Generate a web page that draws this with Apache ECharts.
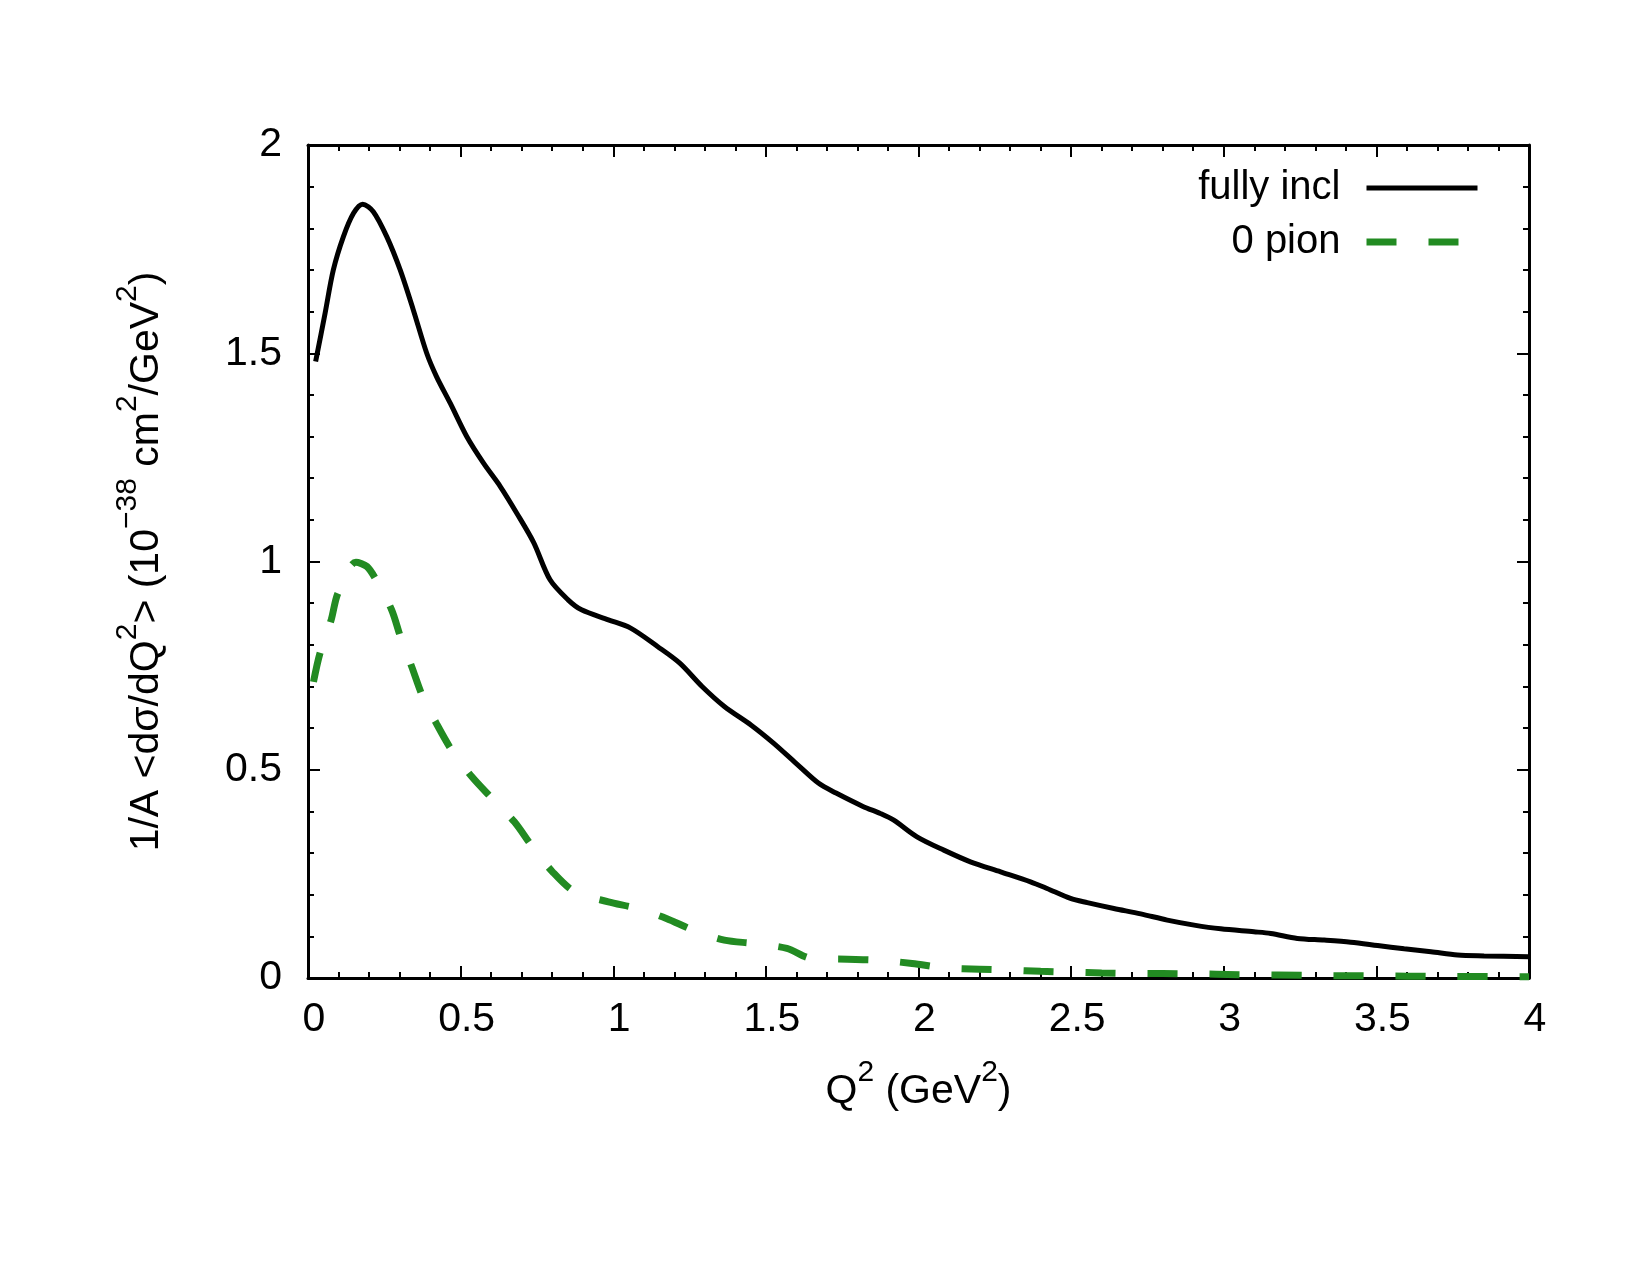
<!DOCTYPE html>
<html>
<head>
<meta charset="utf-8">
<title>Q2 distribution</title>
<script src="https://cdn.jsdelivr.net/npm/echarts@6/dist/echarts.min.js"></script>
<style>
  html, body { margin: 0; padding: 0; background: #fff; }
  #chart { width: 1650px; height: 1275px; }
</style>
</head>
<body>
<div id="chart"></div>
<script>
// Q2 (GeV2) values and 1/A <dsigma/dQ2>
var inclQ2 = [0.025, 0.056, 0.083, 0.116, 0.149, 0.179, 0.214, 0.258, 0.302, 0.345,
  0.389, 0.421, 0.466, 0.520, 0.575, 0.630, 0.684, 0.739, 0.793, 0.852,
  0.896, 0.984, 1.057, 1.145, 1.218, 1.291, 1.364, 1.452, 1.525, 1.598,
  1.672, 1.730, 1.818, 1.875, 1.919, 1.995, 2.083, 2.170, 2.269, 2.367,
  2.421, 2.498, 2.553, 2.640, 2.728, 2.815, 2.903, 2.990, 3.099, 3.154,
  3.241, 3.329, 3.416, 3.504, 3.591, 3.679, 3.766, 3.853, 4.0]
var inclXs = [1.480, 1.596, 1.700, 1.780, 1.836, 1.858, 1.840, 1.780, 1.700, 1.604,
  1.500, 1.444, 1.380, 1.300, 1.236, 1.180, 1.116, 1.046, 0.956, 0.908,
  0.884, 0.860, 0.840, 0.796, 0.756, 0.700, 0.652, 0.607, 0.564, 0.516,
  0.468, 0.444, 0.412, 0.395, 0.379, 0.339, 0.307, 0.279, 0.255, 0.231,
  0.215, 0.191, 0.181, 0.167, 0.154, 0.139, 0.127, 0.118, 0.111, 0.107,
  0.095, 0.091, 0.086, 0.078, 0.070, 0.063, 0.055, 0.053, 0.051]

var pionQ2 = [0.018, 0.039, 0.076, 0.098, 0.157, 0.193, 0.223, 0.274, 0.303, 0.340,
  0.376, 0.420, 0.471, 0.537, 0.603, 0.676, 0.735, 0.801, 0.874, 0.984,
  1.079, 1.174, 1.262, 1.364, 1.459, 1.569, 1.650, 1.767, 1.862, 1.979,
  2.09, 2.2, 2.3, 2.4, 2.5, 2.6, 2.7, 2.9, 3.05, 3.3,
  3.5, 3.7, 4.0]
var pionXs = [0.711, 0.779, 0.860, 0.924, 0.998, 0.988, 0.956, 0.884, 0.819, 0.747,
  0.675, 0.612, 0.547, 0.483, 0.431, 0.375, 0.315, 0.255, 0.207, 0.183,
  0.167, 0.143, 0.115, 0.091, 0.083, 0.071, 0.047, 0.045, 0.043, 0.035,
  0.024, 0.021, 0.019, 0.016, 0.014, 0.012, 0.011, 0.010, 0.008, 0.006,
  0.005, 0.004, 0.003]

var seriesNames = ['fully incl', '0 pion']

function pairs(xs, ys) {
  return xs.map(function (x, i) { return [x, ys[i]] })
}

var FONT = 'Liberation Sans, Arial, Helvetica, sans-serif'
// superscripts: smaller text pushed up with bottom padding
var supRich = {
  b: { fontSize: 41, fontFamily: FONT, color: '#000' },
  s: { fontSize: 30, fontFamily: FONT, color: '#000', padding: [0, 0, 38, 0] }
}

function axisCommon(showLabel) {
  return {
    axisLine: { show: true, onZero: false, lineStyle: { color: '#000', width: 3 } },
    axisTick: { show: true, inside: true, length: 12, lineStyle: { color: '#000', width: 2 } },
    minorTick: { show: true, splitNumber: 5, length: 6, lineStyle: { color: '#000', width: 2 } },
    splitLine: { show: false },
    axisLabel: { show: showLabel, color: '#000', fontSize: 41, fontFamily: FONT }
  }
}

var chart = echarts.init(document.getElementById('chart'))

var xBottom = Object.assign(axisCommon(true), {
  type: 'value', position: 'bottom', min: 0, max: 4, interval: 0.5,
  name: '{b|Q}{s|2}{b| (GeV}{s|2}{b|)}',
  nameLocation: 'middle', nameGap: 80,
  nameTextStyle: { fontSize: 41, fontFamily: FONT, color: '#000', rich: supRich }
})
xBottom.axisLabel.margin = 21
xBottom.axisLabel.padding = [0, 0, 0, 12]

var xTop = Object.assign(axisCommon(false), {
  type: 'value', position: 'top', min: 0, max: 4, interval: 0.5
})

var yLeft = Object.assign(axisCommon(true), {
  type: 'value', position: 'left', min: 0, max: 2, interval: 0.5,
  name: '{b|1/A <dσ/dQ}{s|2}{b|> (10}{s|−38}{b| cm}{s|2}{b|/GeV}{s|2}{b|)}',
  nameLocation: 'middle', nameRotate: 90, nameGap: 127,
  nameTextStyle: { fontSize: 41, fontFamily: FONT, color: '#000', rich: supRich }
})
yLeft.axisLabel.margin = 26

var yRight = Object.assign(axisCommon(false), {
  type: 'value', position: 'right', min: 0, max: 2, interval: 0.5
})

chart.setOption({
  animation: false,
  backgroundColor: '#fff',
  grid: { left: 308, right: 121, top: 145, bottom: 297, containLabel: false },
  legend: {
    data: seriesNames,
    orient: 'vertical',
    align: 'right',
    right: 164,
    top: 156,
    itemWidth: 111,
    itemHeight: 20,
    itemGap: 0,
    lineStyle: { width: 'inherit' },
    itemStyle: { opacity: 0 },
    textStyle: { fontSize: 40, fontFamily: FONT, color: '#000', lineHeight: 54, padding: [0, 21, 0, 0] }
  },
  xAxis: [xBottom, xTop],
  yAxis: [yLeft, yRight],
  series: [
    {
      name: seriesNames[0],
      type: 'line',
      xAxisIndex: 0,
      yAxisIndex: 0,
      smooth: 0.3,
      symbol: 'none',
      data: pairs(inclQ2, inclXs),
      lineStyle: { color: '#000', width: 5 },
      itemStyle: { color: '#000' }
    },
    {
      name: seriesNames[1],
      type: 'line',
      xAxisIndex: 0,
      yAxisIndex: 0,
      smooth: 0.3,
      symbol: 'none',
      data: pairs(pionQ2, pionXs),
      lineStyle: { color: '#228b22', width: 7, type: [30, 32], cap: 'butt' },
      itemStyle: { color: '#228b22' }
    }
  ]
})
</script>
</body>
</html>
